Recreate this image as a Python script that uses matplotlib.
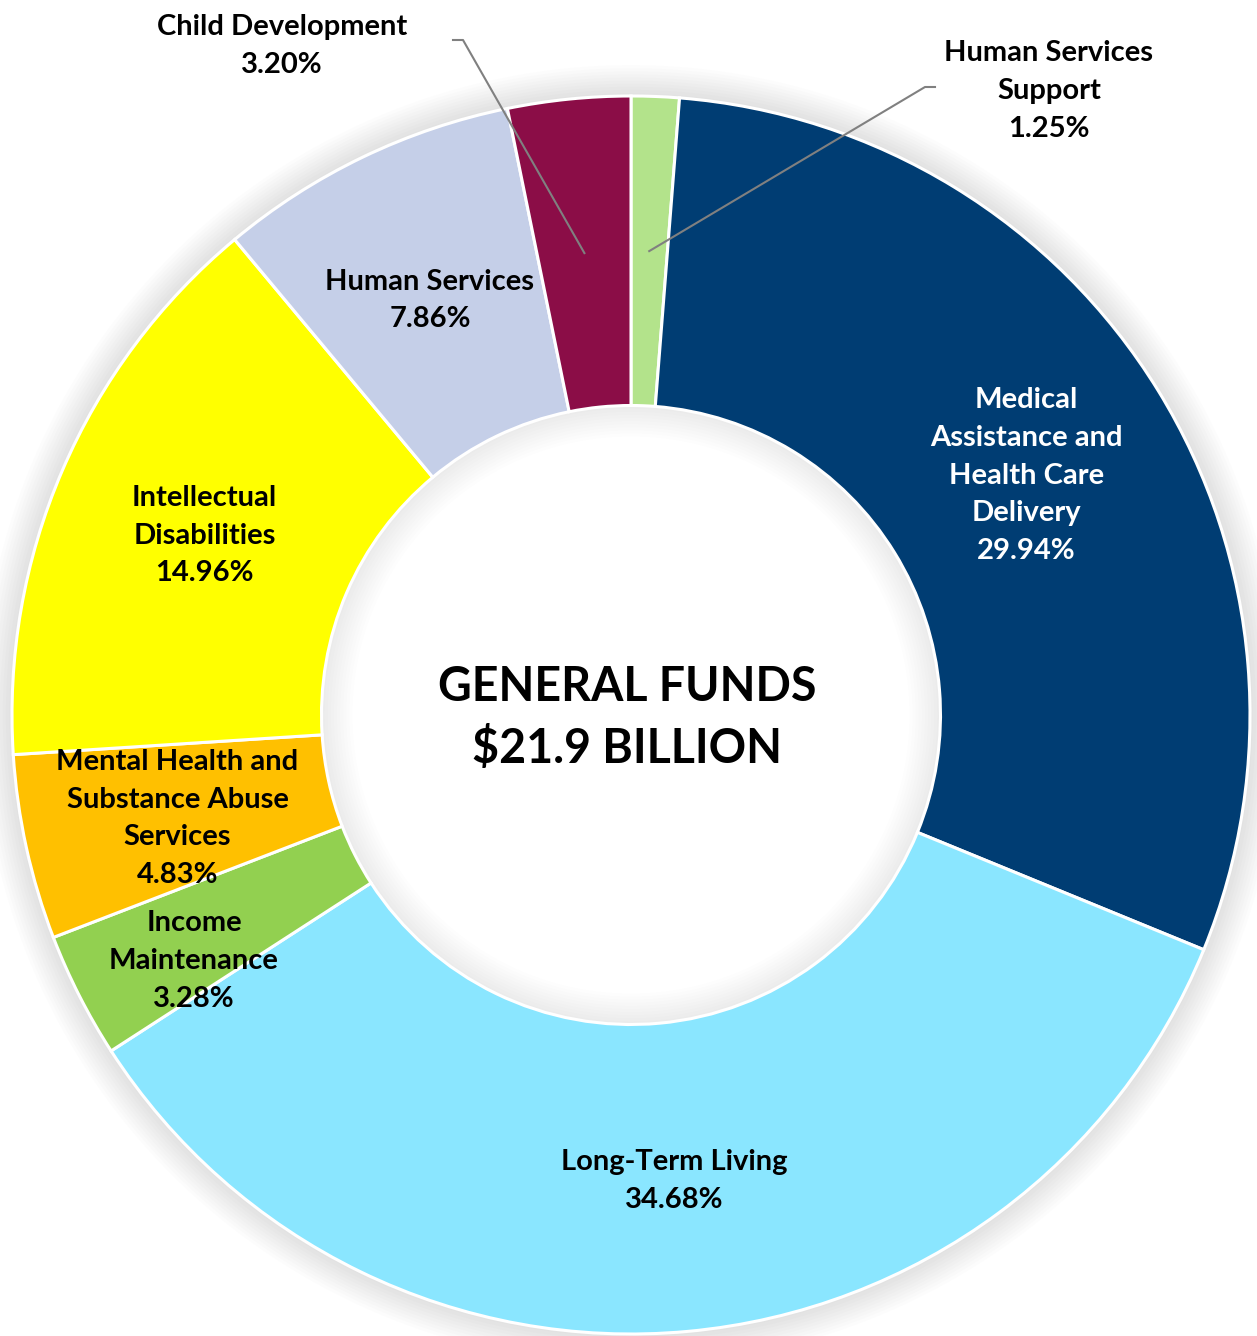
import numpy as np
import matplotlib.pyplot as plt
from matplotlib.patches import Wedge

# slices, clockwise from 12 o'clock
names = ["Human Services\nSupport", "Medical\nAssistance and\nHealth Care\nDelivery",
         "Long-Term Living", "Income\nMaintenance",
         "Mental Health and\nSubstance Abuse\nServices", "Intellectual\nDisabilities",
         "Human Services", "Child Development"]
shares = [1.25, 29.94, 34.68, 3.28, 4.83, 14.96, 7.86, 3.20]
colors = ["#B3E38B", "#003D73", "#8AE6FF", "#92D050", "#FFC000", "#FFFF00",
          "#C5CFE8", "#8B0D47"]
title = "GENERAL FUNDS\n$21.9 BILLION"

W, H = 1257, 1336
CX, CY, R = 631, 715, 619


def px(x, y):
    # pixel (from top-left) -> data units
    return (x - CX) / R, (CY - y) / R


plt.rcParams['font.family'] = ['Lato', 'DejaVu Sans']

fig = plt.figure(figsize=(W / 100, H / 100), dpi=100)
ax = fig.add_axes([0, 0, 1, 1])

wedges, _ = ax.pie(shares, colors=colors, startangle=90, counterclock=False,
                   radius=1, wedgeprops=dict(width=0.5, edgecolor='white', linewidth=2.2))

# soft glow around the ring and inside the hole
for i in range(10):
    d = 0.005 * (i + 1)
    ax.add_patch(Wedge((0, 0), 1 + d, 0, 360, width=d, color='#808080',
                       alpha=0.018, lw=0, zorder=0))
    ax.add_patch(Wedge((0, 0), 0.5, 0, 360, width=d, color='#808080',
                       alpha=0.015, lw=0, zorder=0))

fs = 21
ls = 1.56
dy = -4 / R  # nudge text down a little to sit like the original
inside = {1: None, 2: None, 3: px(194, 957), 4: None, 5: None, 6: None}
for i, w in enumerate(wedges):
    ang = np.deg2rad((w.theta1 + w.theta2) / 2)
    mid = (0.75 * np.cos(ang), 0.75 * np.sin(ang))
    txt = f"{names[i]}\n{shares[i]:.2f}%"
    if i in inside:
        pos = inside[i] if inside[i] is not None else mid
        ax.text(pos[0], pos[1] + dy, txt, ha='center', va='center', fontsize=fs,
                fontweight='bold', linespacing=ls,
                color='white' if i == 1 else 'black', zorder=5)
    elif i == 0:
        tx, ty = px(1049, 87)
        ax.text(tx, ty + dy, txt, ha='center', va='center', fontsize=fs,
                fontweight='bold', linespacing=ls, zorder=5)
        p1, p2 = px(935, 87), px(925, 87)
        ax.plot([p1[0], p2[0], mid[0]], [p1[1], p2[1], mid[1]], color='#808080',
                lw=1.5, zorder=4)
    else:
        tx, ty = px(282, 42)
        ax.text(tx, ty + dy, txt, ha='center', va='center', fontsize=fs,
                fontweight='bold', linespacing=ls, zorder=5)
        p1, p2 = px(453, 40), px(463, 40)
        ax.plot([p1[0], p2[0], mid[0]], [p1[1], p2[1], mid[1]], color='#808080',
                lw=1.5, zorder=4)

ax.text(*px(627, 718), title, ha='center', va='center', fontsize=33.5,
        fontweight='bold', linespacing=1.46)

ax.set_xlim(px(0, 0)[0], px(W, 0)[0])
ax.set_ylim(px(0, H)[1], px(0, 0)[1])
ax.set_aspect('auto')
ax.axis('off')

fig.savefig('out.png', dpi=100)
